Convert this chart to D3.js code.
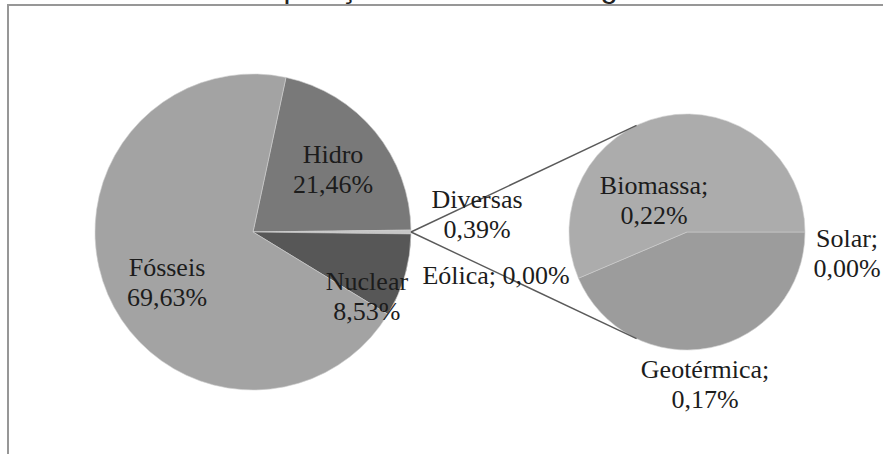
<!DOCTYPE html>
<html>
<head>
<meta charset="utf-8">
<script src="https://cdn.jsdelivr.net/npm/d3@7"></script>
<style>
  html, body { margin: 0; padding: 0; background: #ffffff; }
  svg { display: block; }
  .lbl { font-family: "Liberation Serif", serif; }
</style>
</head>
<body>
<svg id="chart" width="883" height="454"></svg>
<script>
// ---------------- DATA ----------------
const titleText = "Composição da Matriz Energética";
const mainCategories = ["Hidro", "Diversas", "Nuclear", "Fósseis"];
const mainValues = [21.46, 0.39, 8.53, 69.63];
const subCategories = ["Solar", "Geotérmica", "Eólica", "Biomassa"];
const subValues = [0.00, 0.17, 0.00, 0.22];
const otherCategory = "Diversas";

// ---------------- STYLE / LAYOUT ----------------
const W = 883, H = 454;
const mainColors = { "Hidro": "#797979", "Diversas": "#c6c6c6", "Nuclear": "#575757", "Fósseis": "#a3a3a3" };
const subColors = { "Solar": "#b0b0b0", "Geotérmica": "#9c9c9c", "Eólica": "#b0b0b0", "Biomassa": "#acacac" };
const mainGeom = { cx: 253, cy: 232, r: 158 };
const subGeom = { cx: 687, cy: 232, r: 118 };
// label block centres in polar form relative to each pie: [angle deg clockwise from 12 o'clock, radius factor]
const mainLabelPolar = { "Hidro": [51.8, 0.644], "Diversas": [85.3, 1.423], "Nuclear": [119.3, 0.827], "Fósseis": [239.8, 0.63] };
const subLabelPolar = { "Biomassa": [313.7, 0.387], "Geotérmica": [173.2, 1.293], "Solar": [97.5, 1.368], "Eólica": [257.3, 1.659] };
const lineGap = 30;
const labelSize = 26;

const locale = d3.formatLocale({ decimal: ",", thousands: ".", grouping: [3], currency: ["", ""] });
const fmt = v => locale.format(".2f")(v) + "%";

const svg = d3.select("#chart");

// title (mostly outside the view; only descenders peek above the frame)
svg.append("text")
  .attr("x", 218).attr("y", -3)
  .attr("font-family", "Liberation Sans, Arial, sans-serif")
  .attr("font-size", 31)
  .attr("fill", "#222")
  .text(titleText);

// frame (only top and left edges fall inside the view)
svg.append("rect")
  .attr("x", 8).attr("y", 5)
  .attr("width", W + 20).attr("height", H + 20)
  .attr("fill", "#ffffff")
  .attr("stroke", "#979797").attr("stroke-width", 2);

function polar(g, angDeg, f) {
  const a = angDeg * Math.PI / 180;
  return [g.cx + Math.sin(a) * g.r * f, g.cy - Math.cos(a) * g.r * f];
}

// ---------------- MAIN PIE ----------------
const mainData = mainCategories.map((c, i) => ({ cat: c, value: mainValues[i] }));
const mainTotal = d3.sum(mainValues);
const idxOther = mainCategories.indexOf(otherCategory);
const before = d3.sum(mainValues.slice(0, idxOther));
// centre the "other" slice on 3 o'clock
const mainStart = Math.PI / 2 - 2 * Math.PI * (before + mainValues[idxOther] / 2) / mainTotal;
const mainPie = d3.pie().sort(null).value(d => d.value)
  .startAngle(mainStart).endAngle(mainStart + 2 * Math.PI);
const mainArcs = mainPie(mainData);
const mainArc = d3.arc().innerRadius(0).outerRadius(mainGeom.r);

svg.append("g")
  .attr("transform", `translate(${mainGeom.cx},${mainGeom.cy})`)
  .selectAll("path").data(mainArcs).join("path")
  .attr("d", mainArc)
  .attr("fill", d => mainColors[d.data.cat])
  .attr("stroke", "#cfcfcf").attr("stroke-width", 0.6);

// ---------------- SECONDARY PIE ----------------
const subData = subCategories.map((c, i) => ({ cat: c, value: subValues[i] }));
const subPie = d3.pie().sort(null).value(d => d.value)
  .startAngle(Math.PI / 2).endAngle(Math.PI / 2 + 2 * Math.PI);
const subArcs = subPie(subData);
const subArc = d3.arc().innerRadius(0).outerRadius(subGeom.r);

svg.append("g")
  .attr("transform", `translate(${subGeom.cx},${subGeom.cy})`)
  .selectAll("path").data(subArcs).join("path")
  .attr("d", subArc)
  .attr("fill", d => subColors[d.data.cat])
  .attr("stroke", "#cfcfcf").attr("stroke-width", d => d.value > 0 ? 0.6 : 0);

// ---------------- CONNECTORS (tangents from the "other" slice tip) ----------------
const oa = mainArcs[idxOther];
const tipAng = (oa.startAngle + oa.endAngle) / 2;
const tip = [mainGeom.cx + Math.sin(tipAng) * mainGeom.r, mainGeom.cy - Math.cos(tipAng) * mainGeom.r];
const dx = subGeom.cx - tip[0], dy = subGeom.cy - tip[1];
const dist = Math.hypot(dx, dy);
const base = Math.atan2(-dx, dy); // d3-style angle pointing from sub centre to tip
const off = Math.acos(subGeom.r / dist);
[base - off, base + off].forEach(a => {
  const p = [subGeom.cx + Math.sin(a) * subGeom.r, subGeom.cy - Math.cos(a) * subGeom.r];
  svg.append("line")
    .attr("x1", tip[0]).attr("y1", tip[1])
    .attr("x2", p[0]).attr("y2", p[1])
    .attr("stroke", "#5a5a5a").attr("stroke-width", 1.4);
});

// ---------------- LABELS ----------------
function addLabel(g, polarSpec, lines) {
  const [x, cy] = polar(g, polarSpec[0], polarSpec[1]);
  const n = lines.length;
  const t = svg.append("text")
    .attr("class", "lbl")
    .attr("font-family", "Liberation Serif")
    .attr("font-size", labelSize)
    .attr("fill", "#1c1c1c")
    .attr("text-anchor", "middle");
  lines.forEach((ln, i) => {
    t.append("tspan")
      .attr("x", x)
      .attr("y", cy + 9 + (i - (n - 1) / 2) * lineGap)
      .text(ln);
  });
}

mainArcs.forEach(d => {
  const c = d.data.cat;
  addLabel(mainGeom, mainLabelPolar[c], [c, fmt(d.data.value)]);
});
subArcs.forEach(d => {
  const c = d.data.cat;
  if (c === "Eólica") {
    addLabel(subGeom, subLabelPolar[c], [c + "; " + fmt(d.data.value)]);
  } else {
    addLabel(subGeom, subLabelPolar[c], [c + ";", fmt(d.data.value)]);
  }
});
</script>
</body>
</html>
